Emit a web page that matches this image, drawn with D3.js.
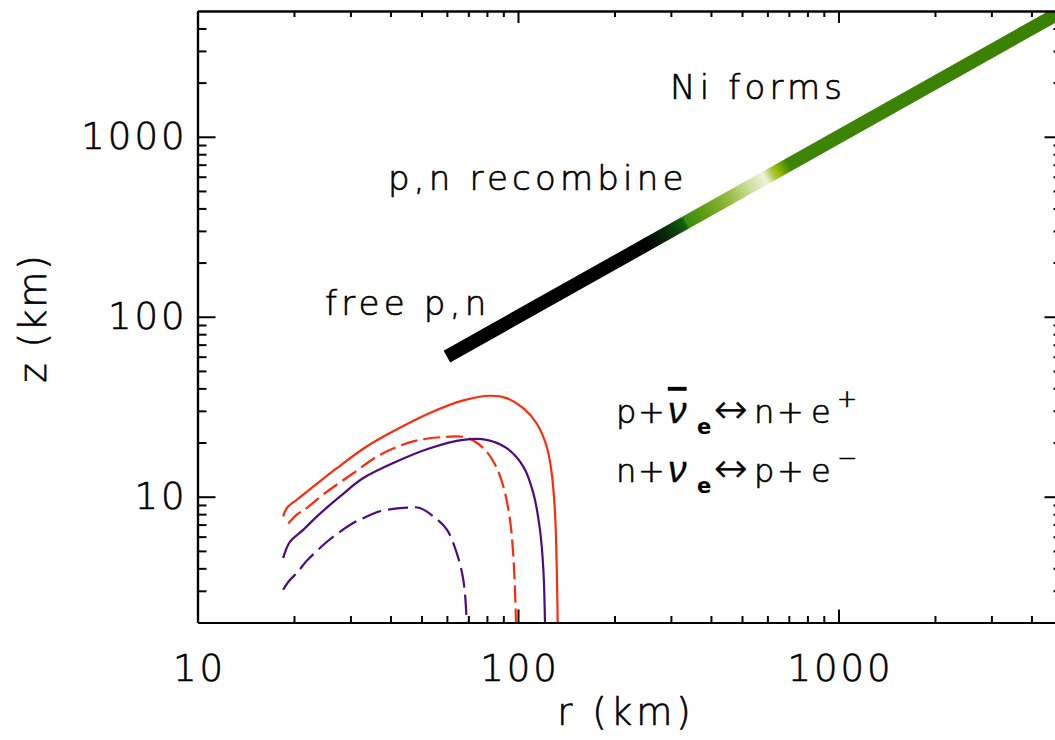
<!DOCTYPE html>
<html><head><meta charset="utf-8">
<script src="https://cdn.jsdelivr.net/npm/d3@7"></script>
<style>body{margin:0;background:#fff} svg{display:block}</style>
</head><body><svg id="c" width="1055" height="740"></svg>
<script>
// ---- data ----
const xDomain = [10, 5000];
const yDomain = [2, 5000];
const xMajor = [10, 100, 1000];
const yMajor = [10, 100, 1000];
const xMinor = [20,30,40,50,60,70,80,90,200,300,400,500,600,700,800,900,2000,3000,4000];
const yMinor = [3,4,5,6,7,8,9,20,30,40,50,60,70,80,90,200,300,400,500,600,700,800,900,2000,3000,4000];

const redSolid = [[18.5,7.78],[19.0,8.65],[20.4,9.62],[23.0,11.4],[27.2,14.4],[33.7,19.0],[40.8,23.1],[53.1,29.2],[67.5,34.3],[81.8,36.4],[92.2,35.3],[103.9,31.1],[114.3,25.6],[122.9,19.0],[127.4,13.5],[130.5,8.1],[132,4.3],[133,2.0],[133.3,1.5]];
const redDashed = [[19.2,7.1],[20.5,8.0],[21.9,8.65],[24.7,10.3],[30.6,13.5],[37.1,17.1],[47.1,20.3],[59.9,21.5],[69.2,21.3],[78,18.6],[84.8,15.1],[90,11.4],[94.4,7.45],[96.7,4.66],[98.6,2.0],[98.8,1.5]];
const purpleSolid = [[18.5,4.56],[19.4,5.6],[21.4,6.56],[23.6,7.78],[27.8,10.0],[32.9,12.7],[41.8,15.7],[53.1,18.6],[67.5,20.7],[79.8,20.7],[92.2,18.6],[103.9,14.7],[111.6,10.5],[117.1,6.56],[120,3.93],[121.4,2.0],[121.6,1.5]];
const purpleDashed = [[18.5,3.04],[19.3,3.4],[20.5,3.8],[21.9,4.4],[23.5,4.97],[25.3,5.6],[27.2,6.2],[30.6,7.14],[32.9,7.6],[37.1,8.3],[45,8.7],[49.4,8.65],[54.4,7.78],[60,6.56],[64.4,4.86],[67.5,3.46],[69.2,2.0],[69.4,1.5]];

const flowR = [60, 5000];          // outflow trajectory z = r
const flowStopR = [60, 250, 290, 330, 336, 380, 450, 530, 590, 625, 650, 700, 5000];
const flowStopC = ['#000000','#000000','#0b2a0b','#115f12','#3a8a12','#5e9c12','#8fba3a','#cfe0a2','#eef3dc','#a9c840','#8cb800','#3d8508','#3a8000'];

const labelNi = 'Ni forms';
const labelRec = 'p,n recombine';
const labelFree = 'free p,n';

// ---- scales ----
const svg = d3.select('#c');
const x = d3.scaleLog().domain(xDomain).range([197.5, 1062.5]);
const y = d3.scaleLog().domain(yDomain).range([622.5, 11]);
const FONT = 'DejaVu Sans';
const FW = 300;
const TS = 0.65; // text outline to thicken the light face

svg.append('defs').append('clipPath').attr('id','clip')
  .append('rect').attr('x',x(xDomain[0])).attr('y',y(yDomain[1]))
  .attr('width',x(xDomain[1])-x(xDomain[0])).attr('height',y(yDomain[0])-y(yDomain[1]));

// gradient along the flow line
const gx1 = x(flowR[0]), gy1 = y(flowR[0]), gx2 = x(flowR[1]), gy2 = y(flowR[1]);
const grad = svg.select('defs').append('linearGradient').attr('id','flowGrad')
  .attr('gradientUnits','userSpaceOnUse')
  .attr('x1',gx1).attr('y1',gy1).attr('x2',gx2).attr('y2',gy2);
flowStopR.forEach((r,i)=>{
  grad.append('stop').attr('offset',(x(r)-gx1)/(gx2-gx1)).attr('stop-color',flowStopC[i]);
});

const plot = svg.append('g').attr('clip-path','url(#clip)');

// curves
const line = d3.line().x(d=>x(d[0])).y(d=>y(d[1])).curve(d3.curveCatmullRom.alpha(0.5));
const series = [
  {d:redSolid, c:'#ff2a0a', dash:null},
  {d:redDashed, c:'#ff2a0a', dash:'17,6'},
  {d:purpleSolid, c:'#500a80', dash:null},
  {d:purpleDashed, c:'#500a80', dash:'20,7'}
];
series.forEach(s=>{
  plot.append('path').attr('d',line(s.d)).attr('fill','none')
    .attr('stroke',s.c).attr('stroke-width',2.2)
    .attr('stroke-dasharray',s.dash);
});

// flow line
plot.append('line').attr('x1',gx1).attr('y1',gy1).attr('x2',gx2).attr('y2',gy2)
  .attr('stroke','url(#flowGrad)').attr('stroke-width',13.5).attr('stroke-linecap','butt');

// ---- axes ----
function txt(sel, size){
  return sel.attr('font-family',FONT).attr('font-weight',FW).attr('font-size',size)
    .attr('fill','#000').attr('stroke','#000').attr('stroke-width',TS);
}
function styleAxis(g){
  g.select('.domain').attr('stroke','#000').attr('stroke-width',2.2);
  g.selectAll('.tick line').attr('stroke','#000').attr('stroke-width',2);
  txt(g.selectAll('text'),37).attr('letter-spacing',3);
}
const y0 = y(yDomain[0]), y1 = y(yDomain[1]), x0 = x(xDomain[0]), x1 = x(xDomain[1]);

// bottom
svg.append('g').attr('transform',`translate(0,${y0})`)
  .call(d3.axisBottom(x).tickValues(xMajor).tickSizeInner(-13).tickSizeOuter(0).tickFormat(d3.format('d')))
  .call(styleAxis).call(g=>g.selectAll('text').attr('y',58.5).attr('dy',0).attr('dx',1.5));
svg.append('g').attr('transform',`translate(0,${y0})`)
  .call(d3.axisBottom(x).tickValues(xMinor).tickSizeInner(-6.5).tickSizeOuter(0).tickFormat(''))
  .call(styleAxis);
// top
svg.append('g').attr('transform',`translate(0,${y1})`)
  .call(d3.axisTop(x).tickValues(xMajor).tickSizeInner(-12).tickSizeOuter(0).tickFormat(''))
  .call(styleAxis);
svg.append('g').attr('transform',`translate(0,${y1})`)
  .call(d3.axisTop(x).tickValues(xMinor).tickSizeInner(-6).tickSizeOuter(0).tickFormat(''))
  .call(styleAxis);
// left
svg.append('g').attr('transform',`translate(${x0},0)`)
  .call(d3.axisLeft(y).tickValues(yMajor).tickSizeInner(-18).tickSizeOuter(0).tickPadding(10).tickFormat(d3.format('d')))
  .call(styleAxis);
svg.append('g').attr('transform',`translate(${x0},0)`)
  .call(d3.axisLeft(y).tickValues(yMinor).tickSizeInner(-9).tickSizeOuter(0).tickFormat(''))
  .call(styleAxis);
// right
svg.append('g').attr('transform',`translate(${x1},0)`)
  .call(d3.axisRight(y).tickValues(yMajor).tickSizeInner(-18).tickSizeOuter(0).tickFormat(''))
  .call(styleAxis);
svg.append('g').attr('transform',`translate(${x1},0)`)
  .call(d3.axisRight(y).tickValues(yMinor).tickSizeInner(-9).tickSizeOuter(0).tickFormat(''))
  .call(styleAxis);

// axis titles
txt(svg.append('text'),37).attr('x',626).attr('y',725).attr('text-anchor','middle')
  .attr('letter-spacing',4).text('r (km)');
txt(svg.append('text'),37).attr('transform','translate(46,318) rotate(-90)').attr('text-anchor','middle')
  .attr('letter-spacing',2).text('z (km)');

// region labels
const lab = (t,xx,yy)=>txt(svg.append('text'),34).attr('x',xx).attr('y',yy)
  .attr('letter-spacing',4.2).text(t);
lab(labelNi, 670, 99);
lab(labelRec, 388, 190);
lab(labelFree, 325, 315);

// reaction equations
function eq(parts, yy){
  const t = txt(svg.append('text'),32).attr('y',yy);
  parts.forEach(p=>{
    const s = t.append('tspan').attr('x',p.x).text(p.t);
    if (p.sub) s.attr('font-size',21).attr('font-weight','bold').attr('stroke-width',0).attr('dy',11);
    if (p.sup) s.attr('font-size',24).attr('dy',-16);
    if (p.back) s.attr('dy',p.back);
    if (p.arrow) s.attr('font-size',40);
    if (p.it) s.attr('font-family','Liberation Sans').attr('font-style','italic')
      .attr('font-weight','normal').attr('stroke-width',0.3).attr('font-size',37);
    if (p.over) s.style('text-decoration','overline');
  });
}
eq([
  {t:'p',x:616},{t:'+',x:638},{t:'ν',x:668,it:true,over:true},{t:'e',x:697,sub:true},
  {t:'↔',x:714,back:-11,arrow:true},{t:'n',x:754},{t:'+',x:777},{t:'e',x:811},{t:'+',x:837,sup:true}
], 423);
eq([
  {t:'n',x:616},{t:'+',x:638},{t:'ν',x:668,it:true},{t:'e',x:697,sub:true},
  {t:'↔',x:714,back:-11,arrow:true},{t:'p',x:754},{t:'+',x:777},{t:'e',x:811},{t:'−',x:837,sup:true}
], 482);
</script></body></html>
